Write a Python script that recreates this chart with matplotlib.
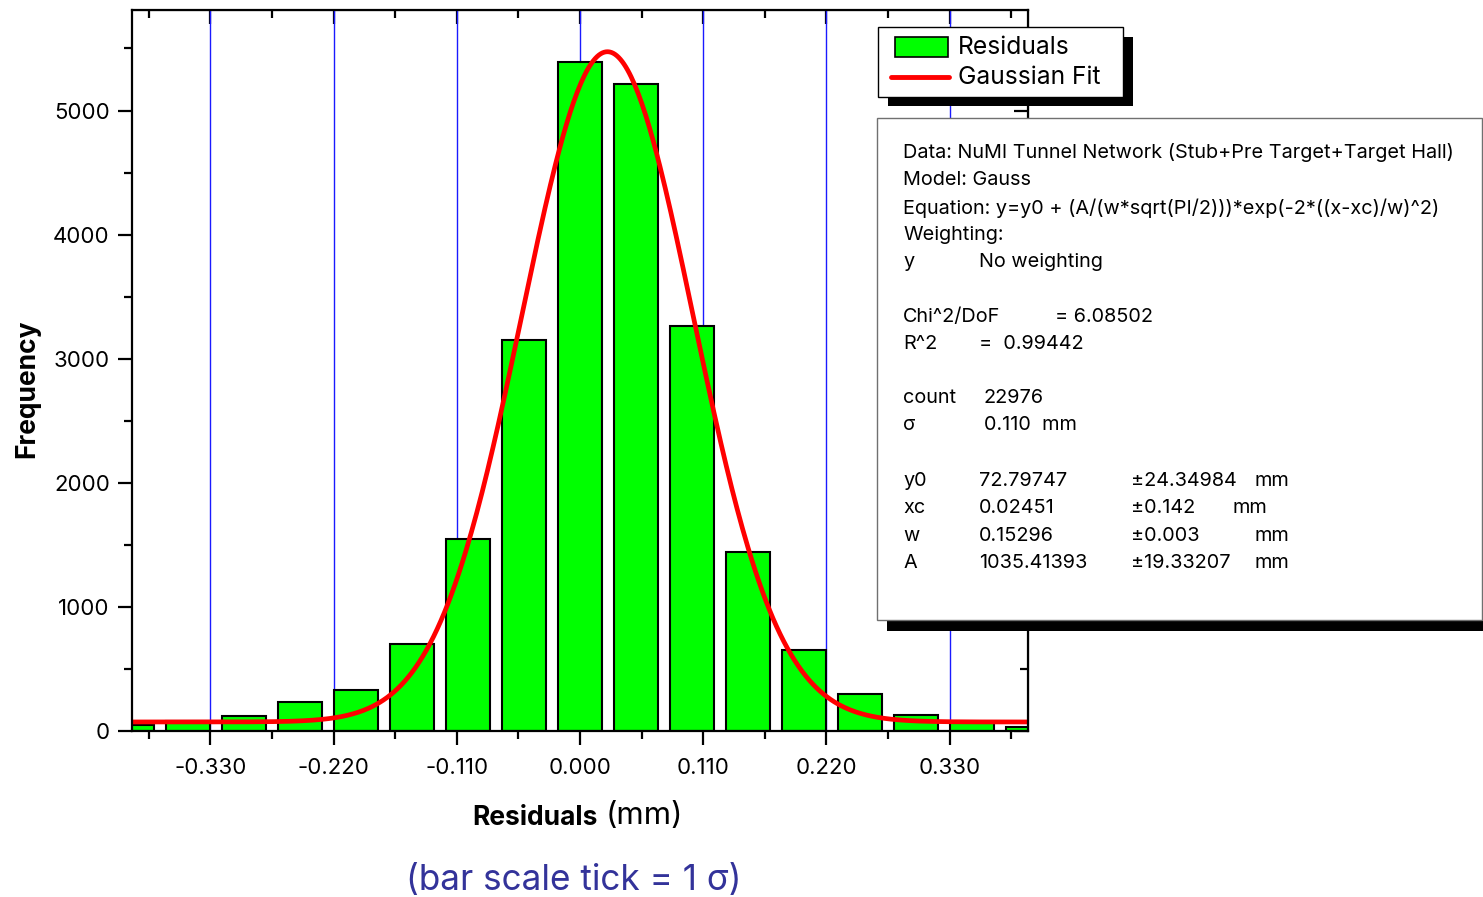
import numpy as np
import matplotlib
matplotlib.use("Agg")
import matplotlib.pyplot as plt
from matplotlib.patches import Rectangle
from matplotlib.lines import Line2D
from matplotlib.ticker import FixedLocator, MultipleLocator

plt.rcParams['font.family'] = ['Inter', 'DejaVu Sans']

# residual histogram, 0.05 mm bins
bin_centers = [-0.40, -0.35, -0.30, -0.25, -0.20, -0.15, -0.10, -0.05, 0.00,
               0.05, 0.10, 0.15, 0.20, 0.25, 0.30, 0.35, 0.40]
counts = [50, 80, 120, 230, 330, 700, 1550, 3150, 5390,
          5210, 3260, 1440, 650, 295, 130, 70, 35]
bar_width = 0.04

# Gauss fit result
y0 = 72.79747
xc = 0.02451
w = 0.15296
A = 1035.41393

sigma_marks = [-0.33, -0.22, -0.11, 0.0, 0.11, 0.22, 0.33]
xtick_labels = ['-0.330', '-0.220', '-0.110', '0.000', '0.110', '0.220', '0.330']
yticks = [0, 1000, 2000, 3000, 4000, 5000]

W, H = 1483, 897
fig = plt.figure(figsize=(W / 100, H / 100), dpi=100)


def fx(px):
    return px / W


def fy(py):
    return 1 - py / H


ax = fig.add_axes([fx(132), fy(731), 896 / W, 721 / H])
ax.set_xlim(-0.4, 0.4)
ax.set_ylim(0, 5810)

ax.vlines(sigma_marks, 0, 5810, colors='#1a1aff', lw=1.0, zorder=1)
ax.bar(bin_centers, counts, width=bar_width, color='#00ff00',
       edgecolor='black', lw=1.5, zorder=2)

xs = np.linspace(-0.4, 0.4, 500)
fit = y0 + (A / (w * np.sqrt(np.pi / 2))) * np.exp(-2 * ((xs - xc) / w) ** 2)
ax.plot(xs, fit, color='red', lw=3.4, zorder=3)

for s in ax.spines.values():
    s.set_linewidth(1.6)
    s.set_zorder(4)

ax.set_xticks(sigma_marks, xtick_labels)
ax.xaxis.set_minor_locator(FixedLocator(np.arange(-0.385, 0.39, 0.11)))
ax.set_yticks(yticks)
ax.yaxis.set_minor_locator(MultipleLocator(500))
ax.tick_params(which='both', direction='out', width=1.6, labelsize=16)
ax.tick_params(which='major', length=10)
ax.tick_params(which='minor', length=6)
ax.tick_params(axis='x', pad=9.5)
ax.tick_params(axis='y', pad=6)

# inward ticks along the top and right edges
top = ax.secondary_xaxis('top')
top.set_xticks(sigma_marks)
top.xaxis.set_minor_locator(FixedLocator(np.arange(-0.385, 0.39, 0.11)))
top.tick_params(which='both', direction='in', width=1.6, labeltop=False)
top.tick_params(which='major', length=10)
top.tick_params(which='minor', length=6)
right = ax.secondary_yaxis('right')
right.set_yticks(yticks)
right.yaxis.set_minor_locator(MultipleLocator(500))
right.tick_params(which='both', direction='in', width=1.6, labelright=False)
right.tick_params(which='major', length=10)
right.tick_params(which='minor', length=6)

fig.text(fx(27), fy(389), "Frequency", fontsize=19, fontweight='bold',
         rotation=90, ha='center', va='center')

fig.text(fx(598), fy(818), "Residuals", fontsize=19, fontweight='bold',
         ha='right', va='center')
fig.text(fx(606), fy(816), "(mm)", fontsize=22.5, ha='left', va='center')
fig.text(fx(574), fy(880), "(bar scale tick = 1 \u03c3)", fontsize=25.3,
         color='#33339a', ha='center', va='center')

# legend box with drop shadow
fig.add_artist(Rectangle((fx(888), fy(106)), (1133 - 888) / W, (106 - 37) / H,
                         transform=fig.transFigure, facecolor='black',
                         edgecolor='none', zorder=5))
fig.add_artist(Rectangle((fx(878), fy(97)), (1123 - 878) / W, (97 - 27) / H,
                         transform=fig.transFigure, facecolor='white',
                         edgecolor='black', lw=1.0, zorder=6))
fig.add_artist(Rectangle((fx(895), fy(57)), (948 - 895) / W, (57 - 37) / H,
                         transform=fig.transFigure, facecolor='#00ff00',
                         edgecolor='black', lw=1.2, zorder=7))
fig.add_artist(Line2D([fx(891), fx(949)], [fy(77.5), fy(77.5)],
                      transform=fig.transFigure, color='red', lw=3.5,
                      solid_capstyle='round', zorder=7))
fig.text(fx(958), fy(47), "Residuals", fontsize=17.7, va='center', zorder=8)
fig.text(fx(958), fy(78), "Gaussian Fit", fontsize=17.7, va='center', zorder=8)

# fit report box with drop shadow
fig.add_artist(Rectangle((fx(887), fy(631)), (W + 20 - 887) / W, (631 - 128) / H,
                         transform=fig.transFigure, facecolor='black',
                         edgecolor='none', zorder=5))
fig.add_artist(Rectangle((fx(877), fy(620)), (W - 877 - 1) / W, (620 - 118) / H,
                         transform=fig.transFigure, facecolor='white',
                         edgecolor='#707070', lw=1.0, zorder=6))

report = [
    (152, [(903, "Data: NuMI Tunnel Network (Stub+Pre Target+Target Hall)")]),
    (179, [(903, "Model: Gauss")]),
    (207, [(903, "Equation: y=y0 + (A/(w*sqrt(PI/2)))*exp(-2*((x-xc)/w)^2)")]),
    (234, [(903, "Weighting:")]),
    (261, [(903, "y"), (979, "No weighting")]),
    (316, [(903, "Chi^2/DoF"), (1055, "= 6.08502")]),
    (343, [(903, "R^2"), (979, "=  0.99442")]),
    (397, [(903, "count"), (984, "22976")]),
    (424, [(903, "\u03c3"), (984, "0.110  mm")]),
    (480, [(903, "y0"), (979, "72.79747"), (1131, "\u00b124.34984"), (1255, "mm")]),
    (507, [(903, "xc"), (979, "0.02451"), (1131, "\u00b10.142"), (1232, "mm")]),
    (535, [(903, "w"), (979, "0.15296"), (1131, "\u00b10.003"), (1255, "mm")]),
    (562, [(903, "A"), (979, "1035.41393"), (1131, "\u00b119.33207"), (1255, "mm")]),
]
for row_y, cells in report:
    for col_x, txt in cells:
        fig.text(fx(col_x), fy(row_y + 1), txt, fontsize=14.3, va='center', zorder=8)

fig.savefig("out.png", dpi=100)
